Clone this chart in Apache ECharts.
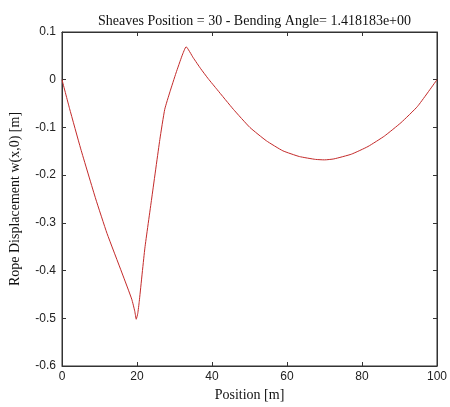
<!DOCTYPE html>
<html>
<head>
<meta charset="utf-8">
<script src="https://cdn.jsdelivr.net/npm/echarts@6/dist/echarts.min.js"></script>
<style>
html,body{margin:0;padding:0;background:#fff;}
#chart{width:450px;height:407px;}
</style>
</head>
<body>
<div id="chart"></div>
<script>
var titleText = 'Sheaves Position = 30 - Bending Angle= 1.418183e+00';
var xName = 'Position [m]';
var yName = 'Rope Displacement w(x,0) [m]';
var xTicks = [0, 20, 40, 60, 80, 100];
var yTicks = [-0.6, -0.5, -0.4, -0.3, -0.2, -0.1, 0, 0.1];
var positions = [0, 2, 5, 9, 12, 16, 18.6, 19.4, 19.8, 20.2, 20.6, 22.1, 23.9, 26.1, 27.4, 28.8, 30.4, 32, 33.1, 35, 37, 39, 41.4, 45.7, 50.1, 54.5, 58.9, 63.3, 67.6, 70, 72.5, 77.2, 81.6, 86, 90.4, 94.8, 100];
var displacement = [0, -0.06, -0.145, -0.25, -0.322, -0.405, -0.46, -0.485, -0.502, -0.49, -0.465, -0.353, -0.25, -0.125, -0.062, -0.025, 0.014, 0.05, 0.069, 0.046, 0.023, 0.002, -0.021, -0.062, -0.1, -0.128, -0.149, -0.161, -0.167, -0.168, -0.166, -0.156, -0.14, -0.118, -0.09, -0.056, 0];

var seriesData = positions.map(function (x, i) { return [x, displacement[i]]; });

var chart = echarts.init(document.getElementById('chart'), null, {renderer: 'canvas'});
var axisColor = '#333';
var serif = 'Liberation Serif, Times New Roman, serif';
var labelStyle = {color: '#222', fontFamily: 'Liberation Sans, Arial, sans-serif', fontSize: 12};
function fmtY(v) {
  var r = Math.round(v * 10) / 10;
  if (r === 0) return '0';
  return String(r);
}
function hiddenAxis(pos) {
  return {
    type: 'value', position: pos,
    axisLine: {show: true, onZero: false, lineStyle: {color: axisColor, width: 1}},
    axisTick: {show: true, inside: true, length: 4, lineStyle: {color: axisColor}},
    axisLabel: {show: false}, splitLine: {show: false}
  };
}
var xTop = hiddenAxis('top');
xTop.min = xTicks[0]; xTop.max = xTicks[xTicks.length - 1]; xTop.interval = 20;
var yRight = hiddenAxis('right');
yRight.min = yTicks[0]; yRight.max = yTicks[yTicks.length - 1]; yRight.interval = 0.1;

chart.setOption({
  animation: false,
  backgroundColor: '#fff',
  title: {
    text: titleText,
    left: 249.5,
    textAlign: 'center',
    top: 9,
    textStyle: {fontFamily: serif, fontSize: 14, fontWeight: 'normal', color: '#111'}
  },
  grid: {left: 59, right: 10, top: 32, bottom: 38, show: true, borderColor: axisColor, borderWidth: 1, backgroundColor: '#fff'},
  xAxis: [{
    type: 'value', min: xTicks[0], max: xTicks[xTicks.length - 1], interval: 20, position: 'bottom',
    name: xName, nameLocation: 'middle', nameGap: 22,
    nameTextStyle: {fontFamily: serif, fontSize: 14, color: '#111'},
    axisLine: {show: true, onZero: false, lineStyle: {color: axisColor, width: 1}},
    axisTick: {show: true, inside: true, length: 4, lineStyle: {color: axisColor}},
    axisLabel: Object.assign({margin: 5}, labelStyle),
    splitLine: {show: false}
  }, xTop],
  yAxis: [{
    type: 'value', min: yTicks[0], max: yTicks[yTicks.length - 1], interval: 0.1, position: 'left',
    name: yName, nameLocation: 'middle', nameGap: 40,
    nameTextStyle: {fontFamily: serif, fontSize: 14, color: '#111'},
    axisLine: {show: true, onZero: false, lineStyle: {color: axisColor, width: 1}},
    axisTick: {show: true, inside: true, length: 4, lineStyle: {color: axisColor}},
    axisLabel: Object.assign({margin: 6, formatter: fmtY}, labelStyle),
    splitLine: {show: false}
  }, yRight],
  series: [{
    type: 'line', xAxisIndex: 0, yAxisIndex: 0,
    data: seriesData, showSymbol: false, smooth: 0.15,
    lineStyle: {color: '#c42a2a', width: 1}
  }]
});
</script>
</body>
</html>
